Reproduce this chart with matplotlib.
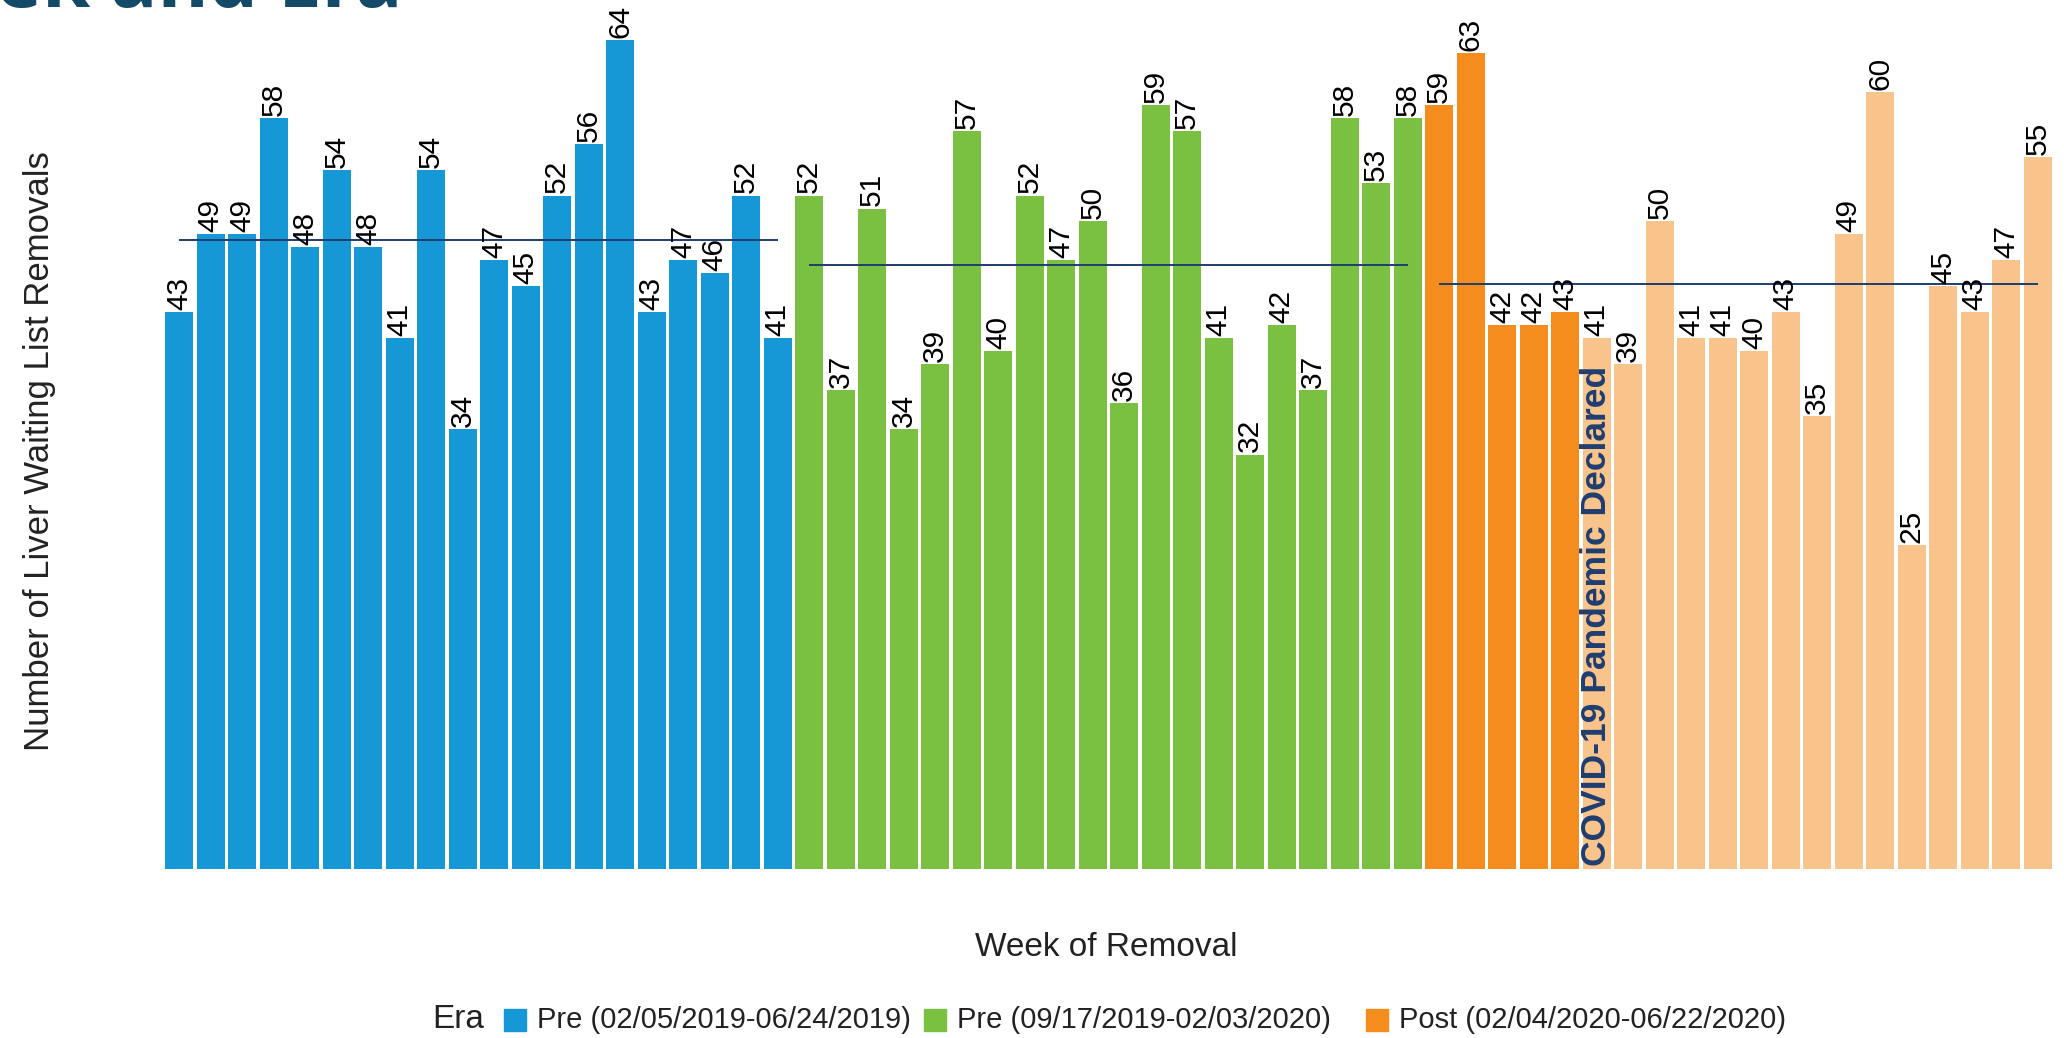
import matplotlib
matplotlib.use("Agg")
import matplotlib.pyplot as plt
from matplotlib.patches import Rectangle

plt.rcParams['font.family'] = ['Liberation Sans', 'DejaVu Sans']

# ---- data: weekly liver waiting list removals by era ----
era_labels = ['Pre (02/05/2019-06/24/2019)',
              'Pre (09/17/2019-02/03/2020)',
              'Post (02/04/2020-06/22/2020)']
pre1 = [43, 49, 49, 58, 48, 54, 48, 41, 54, 34, 47, 45, 52, 56, 64, 43, 47, 46, 52, 41]
pre2 = [52, 37, 51, 34, 39, 57, 40, 52, 47, 50, 36, 59, 57, 41, 32, 42, 37, 58, 53, 58]
post = [59, 63, 42, 42, 43, 41, 39, 50, 41, 41, 40, 43, 35, 49, 60, 25, 45, 43, 47, 55]
weeks_before_declared = 5   # post-era weeks before the pandemic was declared

era_colors = ['#1798d6', '#7ac142', '#f58c1e']
post_light = '#f8c48c'
navy = '#1f3d70'

# ---- figure ----
W, H = 2064, 1038
fig = plt.figure(figsize=(W / 100, H / 100), dpi=100)
fig.patch.set_facecolor('white')

ymax = 66.9
ax = fig.add_axes([165 / W, (H - 869) / H, (2052 - 165) / W, 866.4 / H])
ax.set_xlim(-0.45, 59.45)
ax.set_ylim(0, ymax)
ax.axis('off')

groups = [pre1, pre2, post]
start = 0
for g, vals in enumerate(groups):
    xs = list(range(start, start + len(vals)))
    cols = [era_colors[g]] * len(vals)
    if g == 2:
        cols = [era_colors[2] if i < weeks_before_declared else post_light
                for i in range(len(vals))]
    ax.bar(xs, vals, width=0.9, color=cols, edgecolor='none', zorder=2)
    for x, v in zip(xs, vals):
        ax.annotate(str(v), (x, v), xytext=(0, 1.5), textcoords='offset points',
                    rotation=90, ha='center', va='bottom', fontsize=21.5,
                    color='black', zorder=4)
    mean = sum(vals) / len(vals)
    ax.hlines(mean, xs[0], xs[-1], color=navy, lw=1.4, zorder=3)
    start += len(vals)

# pandemic declaration marker
covid_x = len(pre1) + len(pre2) + weeks_before_declared
ax.text(covid_x, 0.2, 'COVID-19 Pandemic Declared', rotation=90,
        ha='center', va='bottom', fontsize=25.5, fontweight='bold',
        color=navy, zorder=5)

# axis titles
fig.text(40 / W, 1 - 451 / H, 'Number of Liver Waiting List Removals',
         rotation=90, ha='center', va='center', fontsize=25, color='#222222')
fig.text(1106 / W, 1 - 948 / H, 'Week of Removal',
         ha='center', va='center', fontsize=24, color='#222222')

# cropped slide title (cut off at the top edge, as in the source slide)
fig.text(-4 / W, 1 - 7 / H, 'ek and Era', ha='left', va='baseline',
         fontsize=56, color='#134a68', family='Open Sans', fontweight='bold')

# legend
ly = 1 - 1020 / H
fig.text(432 / W, ly, 'Era', ha='left', va='center', fontsize=24, color='#222222')
box_x = [504, 924, 1366]
for bx, c, lab in zip(box_x, era_colors, era_labels):
    fig.add_artist(Rectangle((bx / W, ly - 11 / H), 22 / W, 22 / H,
                             transform=fig.transFigure, color=c))
    fig.text((bx + 33) / W, ly, lab, ha='left', va='center', fontsize=21,
             color='#222222')

fig.savefig('out.png', dpi=100)
